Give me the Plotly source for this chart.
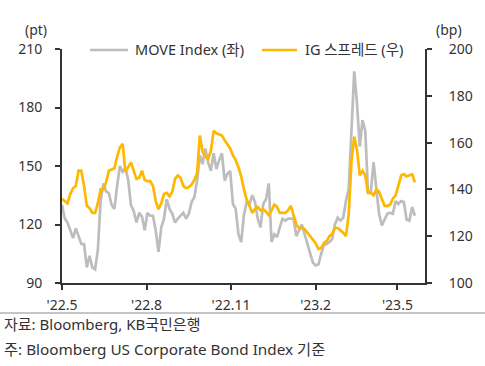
import pandas as pd
import plotly.graph_objects as go

# ---------------- data ----------------
start_date = "2022-05-01"
sample_step = "3D"   # one reading every 3 calendar days

move_index = [
    130, 123, 121, 117, 113, 118, 114, 110, 110, 98,
    104, 98, 97, 107, 132, 141, 137, 136, 130, 128,
    140, 150, 147, 149, 143, 130, 127, 121, 126, 124,
    117, 126, 124.5, 124.5, 117, 106, 118.5, 123, 133, 128,
    125.5, 121, 123, 124.5, 126, 123, 125.5, 131.5, 134, 142.5,
    155.5, 151, 159, 152, 147.5, 156.5, 148.5, 153, 156.5, 142.5,
    146, 147.5, 130.5, 128, 115, 111, 125, 131.5, 130.5, 135,
    131.5, 123, 118.5, 130.5, 133, 141, 111, 115, 113.5, 118.5,
    123, 122, 123, 123, 123, 114, 117, 120, 115, 110,
    105.5, 100.5, 99, 99.5, 105, 109.5, 110, 111, 112.5, 120,
    123.5, 122, 123.5, 132, 138, 172.5, 198.5, 182, 160, 173.5,
    168, 136.5, 136.5, 152, 139, 125.5, 119.5, 122.5, 125.5, 126,
    125.5, 132, 130.5, 132, 131.5, 122.5, 122, 129, 124.5,
]

ig_spread = [
    136, 135, 134, 138, 140.5, 141.5, 148, 148, 141.5, 133,
    132, 130, 130, 134, 140, 140, 143, 148, 148.5, 149,
    154, 158, 159.5, 147.5, 149.5, 151.5, 148, 144.5, 145, 148,
    144, 143.5, 143.5, 141.5, 135, 131.5, 134, 138, 138.5, 137,
    139, 144.5, 146, 145, 141.5, 140.5, 141, 142, 144, 147,
    163, 156, 154, 153, 156.5, 165, 164, 163.5, 163, 161,
    159, 157.5, 154.5, 152.5, 149.5, 145.5, 140, 135.5, 133, 130,
    131.5, 132.5, 131, 131.5, 130.5, 129, 131, 133.5, 132.5, 130,
    130, 130, 131, 133, 129, 125, 123.5, 123.5, 123, 121.5,
    119.5, 118, 117, 114.5, 115, 117, 118, 120, 121, 123.5,
    123.5, 122.5, 121.5, 120, 129.5, 152, 162.5, 157, 146, 148,
    146, 138.5, 138.5, 137.5, 140, 139, 135.5, 133, 133, 133.5,
    136, 137.5, 141.5, 146, 146.5, 145.5, 146, 146.5, 143,
]

series_names = ["MOVE Index (좌)", "IG 스프레드 (우)"]

x_range = ["2022-05-01", "2023-05-31"]
x_tick_vals = ["2022-05-01", "2022-08-01", "2022-11-01", "2023-02-01", "2023-05-01"]
x_tick_text = ["'22.5", "'22.8", "'22.11", "'23.2", "'23.5"]

left_range = [90, 210]
left_ticks = [90, 120, 150, 180, 210]
right_range = [100, 200]
right_ticks = [100, 120, 140, 160, 180, 200]

left_unit = "(pt)"
right_unit = "(bp)"
source_text = "자료: Bloomberg, KB국민은행"
note_text = "주: Bloomberg US Corporate Bond Index 기준"

# ---------------- figure ----------------
W, H = 485, 366
ML, MR, MT, MB = 62, 60, 49, 83
PW, PH = W - ML - MR, H - MT - MB

def px_x(px):
    return (px - ML) / PW

def px_y(py):
    return (H - MB - py) / PH

FONT = "Noto Sans, Noto Sans CJK KR, sans-serif"
TXT = "#333333"
AX = "#333333"
GRAY = "#BDBDBD"
GOLD = "#FFB800"
colors = [GRAY, GOLD]
LW = 2.7

dates = pd.date_range(start_date, periods=len(move_index), freq=sample_step)

fig = go.Figure()
fig.add_trace(go.Scatter(
    x=dates, y=move_index, name=series_names[0], mode="lines",
    line=dict(color=colors[0], width=LW), yaxis="y", showlegend=False,
))
fig.add_trace(go.Scatter(
    x=dates, y=ig_spread, name=series_names[1], mode="lines",
    line=dict(color=colors[1], width=LW), yaxis="y2", showlegend=False,
))

axis_common = dict(
    showline=True, linecolor=AX, linewidth=2,
    ticks="outside", ticklen=5, tickwidth=1.5, tickcolor=AX,
    showgrid=False, zeroline=False,
    tickfont=dict(family=FONT, size=14, color=TXT),
)

# legend drawn at the reference's spots: (line start, line end, text start)
legend_spots = [(90, 128, 133), (262, 297, 303)]
LEG_Y = 50
shapes = [dict(
    type="line", xref="paper", yref="paper",
    x0=px_x(0), x1=px_x(W), y0=px_y(313), y1=px_y(313),
    line=dict(color="#8C8C8C", width=1),
)]
annotations = [
    dict(text=left_unit, xref="paper", yref="paper", x=px_x(36), y=px_y(29),
         xanchor="center", yanchor="middle", showarrow=False,
         font=dict(family=FONT, size=14, color=TXT)),
    dict(text=right_unit, xref="paper", yref="paper", x=px_x(449), y=px_y(29),
         xanchor="center", yanchor="middle", showarrow=False,
         font=dict(family=FONT, size=14, color=TXT)),
    dict(text=source_text, xref="paper", yref="paper", x=px_x(2), y=px_y(324),
         xanchor="left", yanchor="middle", showarrow=False,
         font=dict(family=FONT, size=15, color=TXT)),
    dict(text=note_text, xref="paper", yref="paper", x=px_x(2), y=px_y(349),
         xanchor="left", yanchor="middle", showarrow=False,
         font=dict(family=FONT, size=15.3, color=TXT)),
]
for (l0, l1, t0), name, col in zip(legend_spots, series_names, colors):
    shapes.append(dict(type="line", xref="paper", yref="paper",
                       x0=px_x(l0), x1=px_x(l1), y0=px_y(LEG_Y), y1=px_y(LEG_Y),
                       line=dict(color=col, width=LW)))
    annotations.append(dict(text=name, xref="paper", yref="paper",
                            x=px_x(t0), y=px_y(LEG_Y - 1), xanchor="left",
                            yanchor="middle", showarrow=False,
                            font=dict(family=FONT, size=14.5, color=TXT)))

fig.update_layout(
    width=W, height=H,
    margin=dict(l=ML, r=MR, t=MT, b=MB),
    paper_bgcolor="white", plot_bgcolor="white",
    font=dict(family=FONT, size=13, color=TXT),
    showlegend=False,
    xaxis=dict(
        type="date", range=x_range, tickvals=x_tick_vals, ticktext=x_tick_text,
        ticklabelstandoff=3, **axis_common,
    ),
    yaxis=dict(
        range=left_range, tickvals=left_ticks, ticklabelstandoff=10,
        **axis_common,
    ),
    yaxis2=dict(
        range=right_range, tickvals=right_ticks, overlaying="y", side="right",
        anchor="x", ticklabelstandoff=14, **axis_common,
    ),
    shapes=shapes,
    annotations=annotations,
)

fig.write_html("out.html", config={"displayModeBar": False},
               post_script="document.body.style.margin='0px';")
